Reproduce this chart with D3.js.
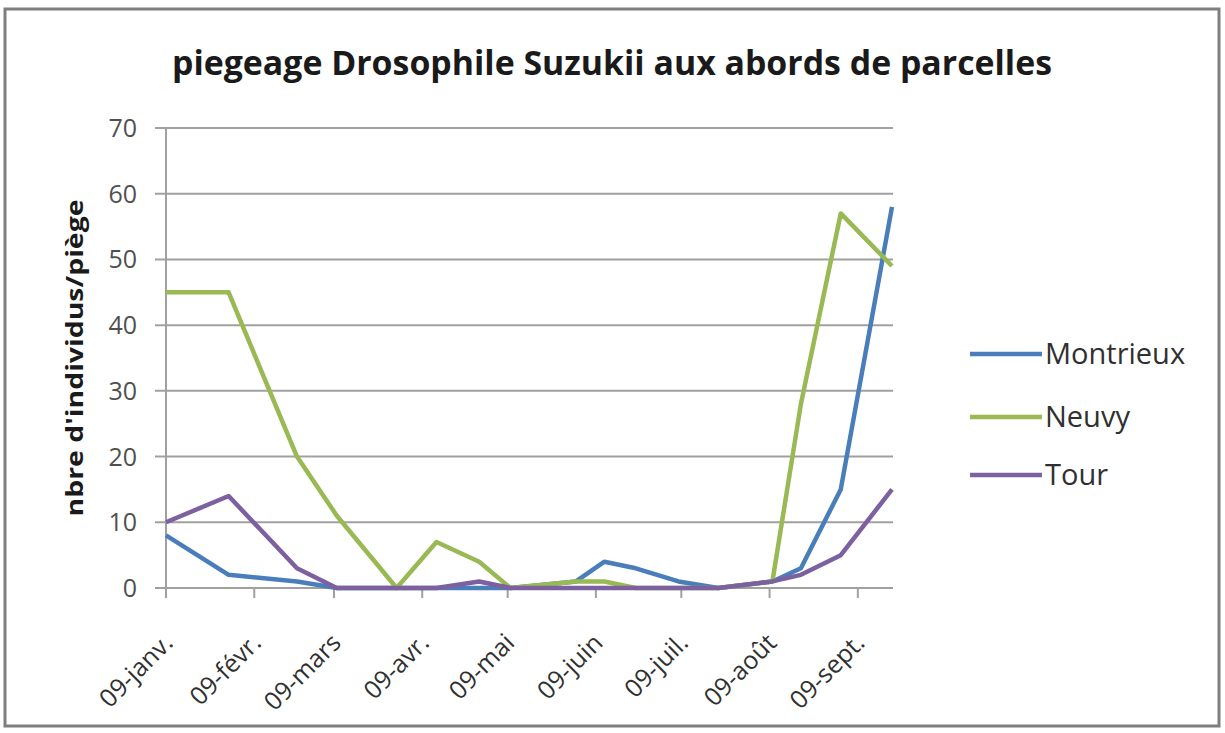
<!DOCTYPE html>
<html>
<head>
<meta charset="utf-8">
<script src="https://cdn.jsdelivr.net/npm/d3@7"></script>
<style>
  body { margin: 0; background: #fff; }
  svg { display: block; font-family: "Open Sans", sans-serif; }
</style>
</head>
<body>
<svg id="chart" width="1225" height="733"></svg>
<script>
const dates = ["2013-01-09","2013-01-31","2013-02-24","2013-03-10","2013-03-31","2013-04-14","2013-04-29","2013-05-10",
               "2013-06-02","2013-06-12","2013-06-23","2013-07-08","2013-07-22","2013-08-10","2013-08-20","2013-09-03","2013-09-21"];
const montrieux = [8, 2, 1, 0, 0, 0, 0, 0, 1, 4, 3, 1, 0, 1, 3, 15, 58];
const neuvy     = [45, 45, 20, 11, 0, 7, 4, 0, 1, 1, 0, 0, 0, 1, 28, 57, 49];
const tour      = [10, 14, 3, 0, 0, 0, 1, 0, 0, 0, 0, 0, 0, 1, 2, 5, 15];
const seriesNames = ["Montrieux", "Neuvy", "Tour"];
const tickDates = ["2013-01-09","2013-02-09","2013-03-09","2013-04-09","2013-05-09","2013-06-09","2013-07-09","2013-08-09","2013-09-09"];
const tickLabels = ["09-janv.","09-févr.","09-mars","09-avr.","09-mai","09-juin","09-juil.","09-août","09-sept."];
const yTicks = [0, 10, 20, 30, 40, 50, 60, 70];

const colors = ["#4a7ebb", "#98b954", "#7d60a0"];
const parse = d3.timeParse("%Y-%m-%d");

const svg = d3.select("#chart");

// cadre
svg.append("rect")
    .attr("x", 5).attr("y", 9).attr("width", 1214).attr("height", 717)
    .attr("fill", "#fff").attr("stroke", "#7f7f7f").attr("stroke-width", 3);

const x = d3.scaleTime()
    .domain([parse(dates[0]), parse(dates[dates.length - 1])])
    .range([166, 892]);
const y = d3.scaleLinear().domain([0, 70]).range([588, 128]);

// grille
svg.append("g")
    .selectAll("line")
    .data(yTicks)
    .join("line")
    .attr("x1", 155).attr("x2", 893)
    .attr("y1", d => y(d)).attr("y2", d => y(d))
    .attr("stroke", "#a0a0a0").attr("stroke-width", 2);

svg.append("line")
    .attr("x1", 166).attr("x2", 166).attr("y1", y(70)).attr("y2", y(0))
    .attr("stroke", "#a0a0a0").attr("stroke-width", 2);

svg.append("g")
    .selectAll("text")
    .data(yTicks)
    .join("text")
    .attr("x", 137).attr("y", d => y(d))
    .attr("dy", "0.36em")
    .attr("text-anchor", "end")
    .attr("font-size", 25)
    .attr("fill", "#505050")
    .text(d => d);

// axe des dates
const xTicks = tickDates.map(parse);
svg.append("g")
    .selectAll("line")
    .data(xTicks)
    .join("line")
    .attr("x1", d => x(d)).attr("x2", d => x(d))
    .attr("y1", 588).attr("y2", 598)
    .attr("stroke", "#a0a0a0").attr("stroke-width", 2);

svg.append("g")
    .selectAll("text")
    .data(xTicks)
    .join("text")
    .attr("transform", d => `translate(${x(d) + 2},638) rotate(-45)`)
    .attr("dy", "0.36em")
    .attr("text-anchor", "end")
    .attr("font-size", 25)
    .attr("fill", "#303030")
    .text((d, i) => tickLabels[i]);

// courbes
const line = d3.line()
    .x((d, i) => x(parse(dates[i])))
    .y(d => y(d));

[montrieux, neuvy, tour].forEach((values, i) => {
    svg.append("path")
        .datum(values)
        .attr("d", line)
        .attr("fill", "none")
        .attr("stroke", colors[i])
        .attr("stroke-width", 4.5)
        .attr("stroke-linejoin", "round");
});

// légende
const legendY = [354, 417, 475];
const legend = svg.append("g")
    .selectAll("g")
    .data(seriesNames)
    .join("g")
    .attr("transform", (d, i) => `translate(970,${legendY[i]})`);
legend.append("line")
    .attr("x1", 0).attr("x2", 72)
    .attr("stroke", (d, i) => colors[i]).attr("stroke-width", 4.5);
legend.append("text")
    .attr("x", 75).attr("dy", "0.36em")
    .attr("font-size", 29)
    .attr("fill", "#303030")
    .text(d => d);

// titres
svg.append("text")
    .attr("x", 612).attr("y", 75)
    .attr("text-anchor", "middle")
    .attr("font-size", 34).attr("font-weight", "bold")
    .attr("fill", "#1a1a1a")
    .attr("textLength", 880).attr("lengthAdjust", "spacingAndGlyphs")
    .text("piegeage Drosophile Suzukii aux abords de parcelles");

svg.append("text")
    .attr("transform", "translate(83,358) rotate(-90)")
    .attr("text-anchor", "middle")
    .attr("font-size", 24).attr("font-weight", "bold")
    .attr("fill", "#1a1a1a")
    .attr("textLength", 317).attr("lengthAdjust", "spacingAndGlyphs")
    .text("nbre d'individus/piège");
</script>
</body>
</html>
